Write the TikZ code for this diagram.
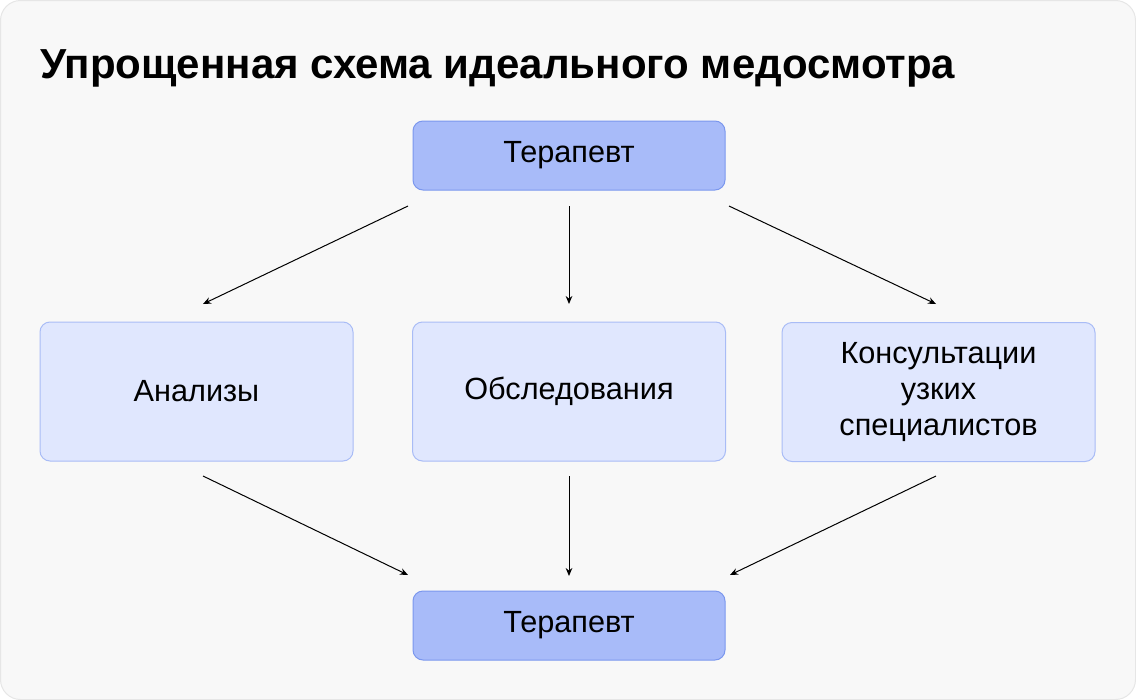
\documentclass[tikz,border=0pt]{standalone}
\usepackage{fontspec}
\setmainfont{Liberation Sans}
\usetikzlibrary{arrows.meta}
\definecolor{bgfill}{HTML}{F8F8F8}
\definecolor{bgline}{HTML}{E6E6E6}
\definecolor{darkfill}{HTML}{A8BBF9}
\definecolor{darkline}{HTML}{7B97EE}
\definecolor{lightfill}{HTML}{E0E7FE}
\definecolor{lightline}{HTML}{A9BCF6}
\begin{document}
\begin{tikzpicture}[x=0.75pt,y=-0.75pt,
  boxbase/.style={rounded corners=7.5pt, line width=0.75pt, inner sep=0pt, align=center,
    font=\fontsize{23}{27}\selectfont, text=black},
  darkbox/.style={boxbase, draw=darkline, fill=darkfill, minimum width=234pt, minimum height=51.75pt},
  lightbox/.style={boxbase, draw=lightline, fill=lightfill, minimum width=234.75pt, minimum height=104.25pt},
  conn/.style={line width=0.75pt, -{Stealth[length=6pt,width=5pt]}},
]
\useasboundingbox (0,0) rectangle (1136,700);
\draw[fill=bgfill, draw=bgline, line width=0.75pt, rounded corners=15pt] (0.5,0.5) rectangle (1135.5,699.5);

\node[anchor=base west, inner sep=0pt, font=\fontsize{31.5}{36}\selectfont\bfseries] (title) at (40,78) {Упрощенная схема идеального медосмотра};

\node[darkbox] (top) at (569,155.5) {Терапевт};
\node[lightbox] (an) at (196.5,391.5) {Анализы};
\node[lightbox] (ob) at (569,391.5) {Обследования};
\node[lightbox] (ks) at (938.5,392) {Консультации\\узких\\специалистов};
\node[darkbox] (bot) at (569,625.5) {Терапевт};

\coordinate (t1) at (408,206);
\coordinate (t2) at (569,206);
\coordinate (t3) at (729,206);
\coordinate (a1) at (203,304);
\coordinate (a2) at (569,304);
\coordinate (a3) at (936,304);
\coordinate (b1) at (203,476);
\coordinate (b2) at (569,476);
\coordinate (b3) at (936,476);
\coordinate (c1) at (408,575);
\coordinate (c2) at (569,576);
\coordinate (c3) at (730,575);

\draw[conn] (t1) -- (a1);
\draw[conn] (t2) -- (a2);
\draw[conn] (t3) -- (a3);
\draw[conn] (b1) -- (c1);
\draw[conn] (b2) -- (c2);
\draw[conn] (b3) -- (c3);
\end{tikzpicture}
\end{document}
